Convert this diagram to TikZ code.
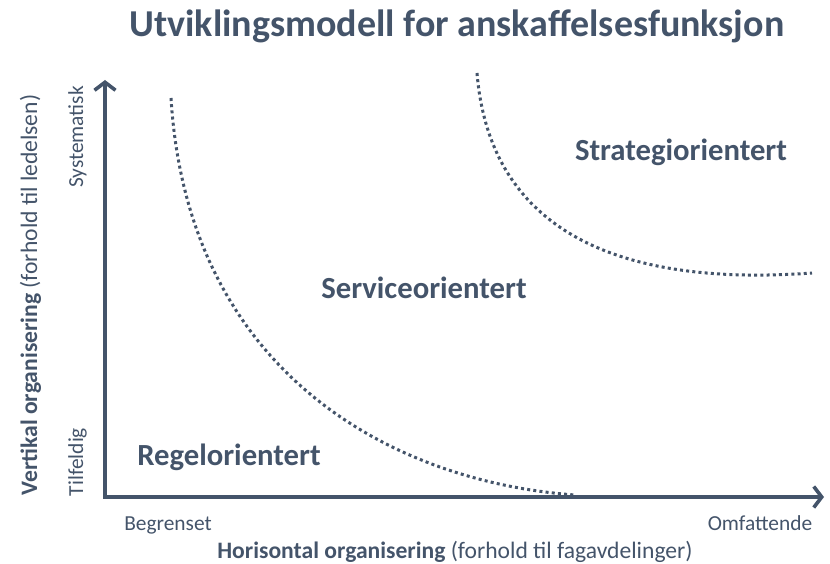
\documentclass[tikz,border=0pt]{standalone}
\usepackage{fontspec}
\setmainfont{Carlito}
\usetikzlibrary{arrows.meta,positioning}
\definecolor{slate}{HTML}{44546A}

\begin{document}
\begin{tikzpicture}[x=1pt,y=-1pt,
  every node/.style={text=slate,inner sep=0pt,anchor=base},
  axis/.style={draw=slate,line width=3.6pt,line join=miter,
    arrows={Straight Barb[length=8pt,width=21pt]-Straight Barb[length=8pt,width=21pt]}},
  border/.style={draw=slate,line width=3pt,dash pattern=on 3pt off 3.2pt},
  region/.style={font=\fontsize{30.7}{34}\selectfont\bfseries},
  level/.style={font=\fontsize{21.4}{24}\selectfont},
  axistitle/.style={font=\fontsize{23.6}{27}\selectfont}]
\useasboundingbox (0,0) rectangle (830,564);
% title
\node (title) at (457,37) {\fontsize{38}{42}\selectfont\bfseries Utviklingsmodell for anskaffelsesfunksjon};
% axes
\coordinate (O) at (105,497);
\coordinate (ytip) at (105,80);
\coordinate (xtip) at (824,497);
\draw [axis] (ytip) -- (O) -- (xtip);
% borders between the stages
\coordinate (b1s) at (171,98);
\coordinate (b1e) at (575,495);
\coordinate (b2s) at (477,73);
\coordinate (b2e) at (812,273);
\draw [border] (b1s) .. controls (188,375) and (395,482) .. (b1e);
\draw [border] (b2s) .. controls (490,232) and (620,287) .. (b2e);
% stages
\node [region] (regel) at (229,465) {Regelorientert};
\node [region] (service) at (424,298) {Serviceorientert};
\node [region] (strategi) at (681,161) {Strategiorientert};
% axis levels
\node [level] (begrenset) at (168,530) {Begrenset};
\node [level] (omfattende) at (760,530) {Omfattende};
\node [level,rotate=90] (systematisk) at (83,137) {Systematisk};
\node [level,rotate=90] (tilfeldig) at (83,462) {Tilfeldig};
% axis titles
\node [axistitle] (htitle) at (455,558) {\textbf{Horisontal organisering} (forhold til fagavdelinger)};
\node [axistitle,rotate=90] (vtitle) at (37,295) {\textbf{Vertikal organisering} (forhold til ledelsen)};
\end{tikzpicture}
\end{document}
